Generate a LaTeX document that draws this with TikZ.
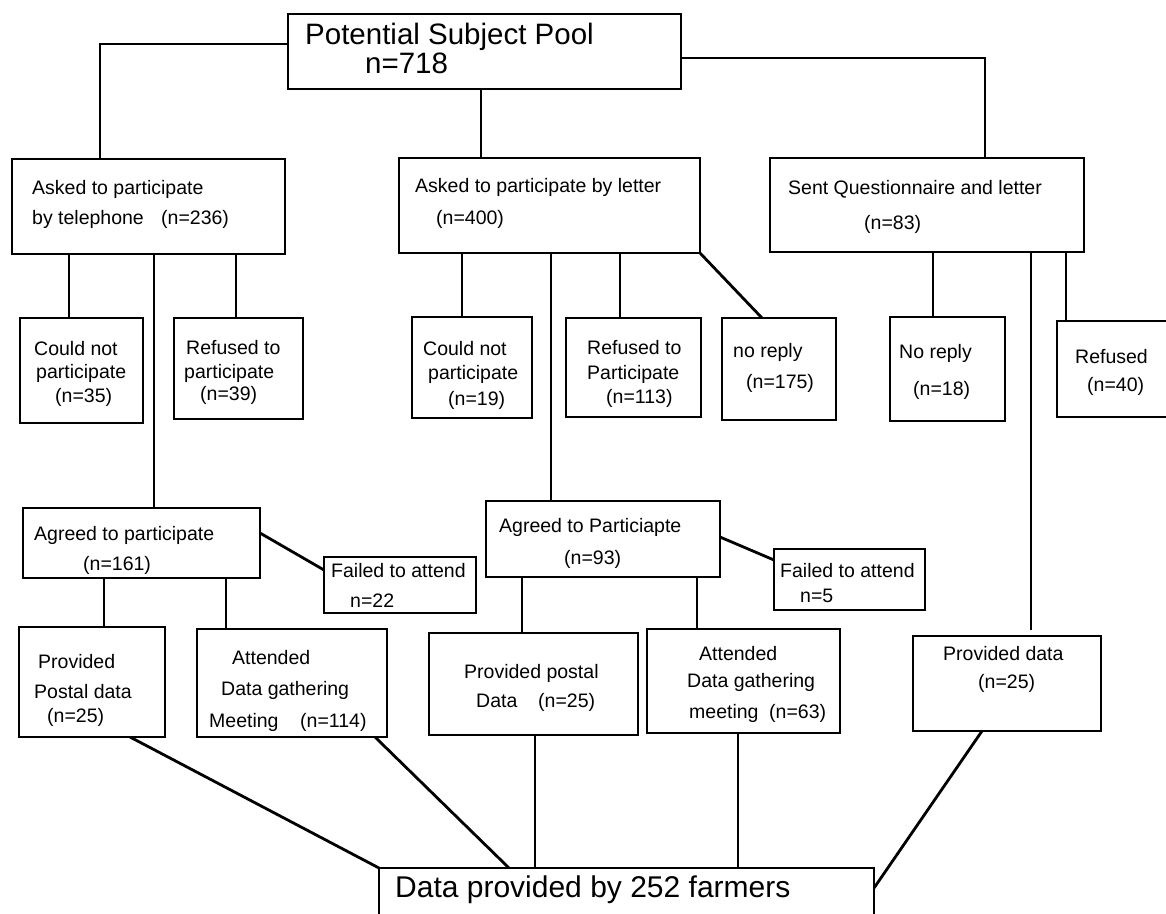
\documentclass[tikz,border=0pt]{standalone}
\usepackage{fontspec}
\setmainfont{Liberation Sans}
\newcommand\cbfont{\fontsize{19.5}{23}\selectfont}
\newcommand\cbtitlefont{\fontsize{29.5}{34}\selectfont}
\tikzset{
  bx/.style={draw, line width=2.4pt, outer sep=0pt, inner sep=0pt, anchor=north west},
  ln/.style={line width=1.8pt},
  dg/.style={line width=2.8pt},
  txt/.style={anchor=base west, inner sep=0pt, font=\cbfont},
  big/.style={anchor=base west, inner sep=0pt, font=\cbtitlefont},
}
\begin{document}
\begin{tikzpicture}[x=1pt, y=-1pt]
\useasboundingbox (0,0) rectangle (1166,913);
\fill[white] (0,0) rectangle (1166,913);
\clip (0,0) rectangle (1166,913);

% ---- boxes ----
\node[bx, minimum width=393pt, minimum height=75pt] (pool) at (288,14) {};
\node[bx, minimum width=273pt, minimum height=95pt] (tel) at (12,159) {};
\node[bx, minimum width=301pt, minimum height=95pt] (let) at (399,158) {};
\node[bx, minimum width=314pt, minimum height=94pt] (que) at (770,158) {};

\node[bx, minimum width=123pt, minimum height=105pt] (cnt) at (20,318) {};
\node[bx, minimum width=129pt, minimum height=101pt] (reft) at (174,318) {};
\node[bx, minimum width=120pt, minimum height=101pt] (cnl) at (412,317) {};
\node[bx, minimum width=135pt, minimum height=99pt] (refl) at (566,318) {};
\node[bx, minimum width=114pt, minimum height=102pt] (norl) at (722,318) {};
\node[bx, minimum width=115pt, minimum height=104pt] (norq) at (890,317) {};
\node[bx, minimum width=140pt, minimum height=96pt] (refq) at (1057,321) {};

\node[bx, minimum width=237pt, minimum height=70pt] (agt) at (23,508) {};
\node[bx, minimum width=152pt, minimum height=56pt] (fat) at (324,557) {};
\node[bx, minimum width=234pt, minimum height=76pt] (agl) at (486,501) {};
\node[bx, minimum width=151pt, minimum height=61pt] (fal) at (774,549) {};

\node[bx, minimum width=146pt, minimum height=110pt] (ppt) at (19,627) {};
\node[bx, minimum width=190pt, minimum height=108pt] (att) at (197,629) {};
\node[bx, minimum width=209pt, minimum height=102pt] (ppl) at (429,633) {};
\node[bx, minimum width=193pt, minimum height=104pt] (atl) at (647,629) {};
\node[bx, minimum width=188pt, minimum height=95pt] (pdq) at (913,636) {};

\node[bx, minimum width=495pt, minimum height=100pt] (fin) at (379,868) {};

% ---- texts ----
\node[big] (pool-a) at (305,44) {Potential Subject Pool};
\node[big] (pool-b) at (365,73) {n=718};

\node[txt] (tel-a) at (32,194) {Asked to participate};
\node[txt] (tel-b) at (32,224) {by telephone};
\node[txt] (tel-c) at (161,224) {(n=236)};
\node[txt] (let-a) at (415,192) {Asked to participate by letter};
\node[txt] (let-b) at (436,224) {(n=400)};
\node[txt] (que-a) at (788,194) {Sent Questionnaire and letter};
\node[txt] (que-b) at (864,229) {(n=83)};

\node[txt] (cnt-a) at (34,355) {Could not};
\node[txt] (cnt-b) at (36,378) {participate};
\node[txt] (cnt-c) at (55,402) {(n=35)};
\node[txt] (reft-a) at (186,354) {Refused to};
\node[txt] (reft-b) at (184,378) {participate};
\node[txt] (reft-c) at (200,400) {(n=39)};
\node[txt] (cnl-a) at (423,355) {Could not};
\node[txt] (cnl-b) at (428,379) {participate};
\node[txt] (cnl-c) at (448,405) {(n=19)};
\node[txt] (refl-a) at (587,354) {Refused to};
\node[txt] (refl-b) at (587,379) {Participate};
\node[txt] (refl-c) at (606,403) {(n=113)};
\node[txt] (norl-a) at (733,357) {no reply};
\node[txt] (norl-b) at (746,388) {(n=175)};
\node[txt] (norq-a) at (899,358) {No reply};
\node[txt] (norq-b) at (913,395) {(n=18)};
\node[txt] (refq-a) at (1075,363) {Refused};
\node[txt] (refq-b) at (1087,391) {(n=40)};

\node[txt] (agt-a) at (34,540) {Agreed to participate};
\node[txt] (agt-b) at (83,570) {(n=161)};
\node[txt] (fat-a) at (331,577) {Failed to attend};
\node[txt] (fat-b) at (350,607) {n=22};
\node[txt] (agl-a) at (499,532) {Agreed to Particiapte};
\node[txt] (agl-b) at (564,564) {(n=93)};
\node[txt] (fal-a) at (780,577) {Failed to attend};
\node[txt] (fal-b) at (800,602) {n=5};

\node[txt] (ppt-a) at (38,668) {Provided};
\node[txt] (ppt-b) at (34,698) {Postal data};
\node[txt] (ppt-c) at (47,722) {(n=25)};
\node[txt] (att-a) at (232,664) {Attended};
\node[txt] (att-b) at (221,695) {Data gathering};
\node[txt] (att-c) at (209,727) {Meeting};
\node[txt] (att-d) at (300,727) {(n=114)};
\node[txt] (ppl-a) at (464,678) {Provided postal};
\node[txt] (ppl-b) at (476,707) {Data};
\node[txt] (ppl-c) at (538,707) {(n=25)};
\node[txt] (atl-a) at (699,660) {Attended};
\node[txt] (atl-b) at (687,687) {Data gathering};
\node[txt] (atl-c) at (689,718) {meeting};
\node[txt] (atl-d) at (769,718) {(n=63)};
\node[txt] (pdq-a) at (943,660) {Provided data};
\node[txt] (pdq-b) at (978,688) {(n=25)};

\node[big, font=\fontsize{30}{34}\selectfont] (fin-a) at (395,897) {Data provided by 252 farmers};

% ---- connectors: pool to the three approaches ----
\draw[ln] (pool.west |- 0,44) -| (tel.north -| 100,0);
\draw[ln] (pool.south -| 481,0) -- (let.north -| 481,0);
\draw[ln] (pool.east |- 0,58) -| (que.north -| 985,0);

% telephone branch
\draw[ln] (tel.south -| 69,0) -- (cnt.north -| 69,0);
\draw[ln] (tel.south -| 236,0) -- (reft.north -| 236,0);
\draw[ln] (tel.south -| 154,0) -- (agt.north -| 154,0);

% letter branch
\draw[ln] (let.south -| 462,0) -- (cnl.north -| 462,0);
\draw[ln] (let.south -| 620,0) -- (refl.north -| 620,0);
\draw[dg] (let.south east) -- (norl.north -| 762,0);
\draw[ln] (let.south -| 551,0) -- (agl.north -| 551,0);

% questionnaire branch
\draw[ln] (que.south -| 933,0) -- (norq.north -| 933,0);
\draw[ln] (que.south -| 1066,0) -- (refq.north -| 1066,0);
\draw[ln] (que.south -| 1031,0) -- (1031,630) coordinate (qend);

% agreed boxes and their outcomes
\draw[dg] (agt.east |- 0,533) -- (fat.west |- 0,570);
\draw[ln] (agt.south -| 104,0) -- (ppt.north -| 104,0);
\draw[ln] (agt.south -| 226,0) -- (att.north -| 226,0);
\draw[dg] (agl.east |- 0,537) -- (fal.west |- 0,560);
\draw[ln] (agl.south -| 522,0) -- (ppl.north -| 522,0);
\draw[ln] (agl.south -| 697,0) -- (atl.north -| 697,0);

% all data sources into the final box
\draw[dg] (ppt.south -| 130,0) -- (fin.north west);
\draw[dg] (att.south -| 375,0) -- (fin.north -| 509,0);
\draw[ln] (ppl.south -| 535,0) -- (fin.north -| 535,0);
\draw[ln] (atl.south -| 738,0) -- (fin.north -| 738,0);
\draw[dg] (pdq.south -| 982,0) -- (fin.east |- 0,888);
\end{tikzpicture}
\end{document}
